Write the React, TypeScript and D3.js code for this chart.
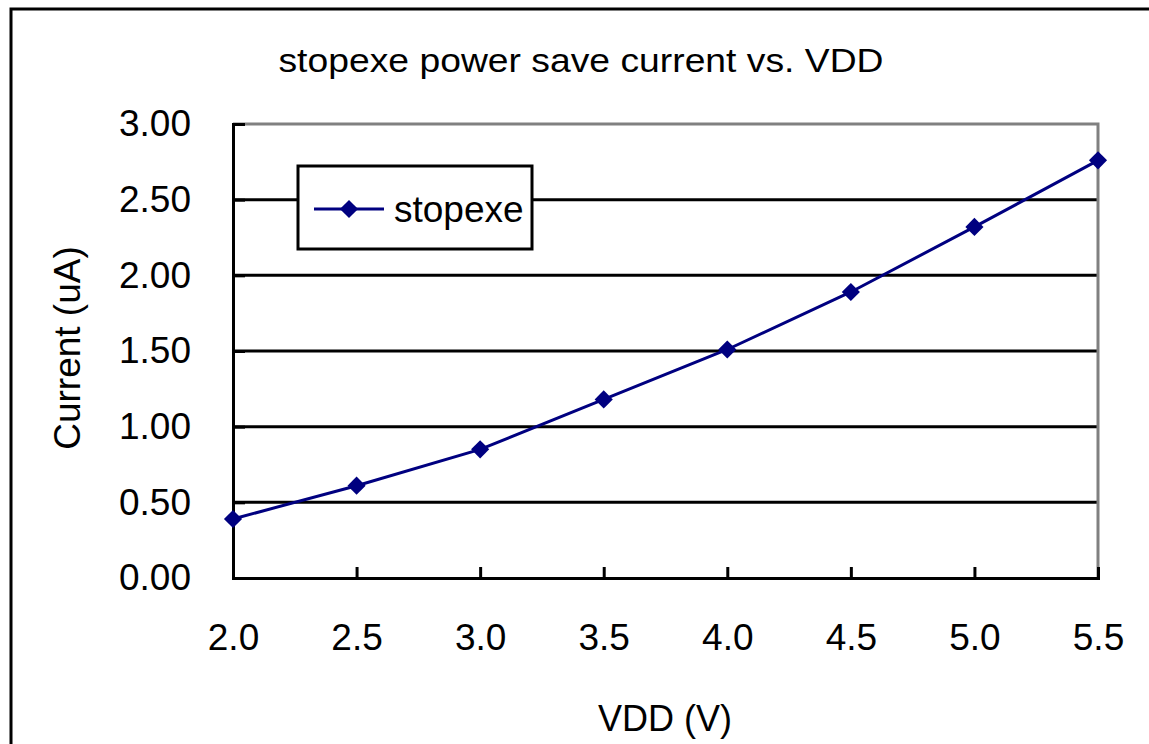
import React, { useEffect, useRef } from 'react';
import * as d3 from 'd3';

// VDD values (V) and measured current (uA)
const vdd = [2.0, 2.5, 3.0, 3.5, 4.0, 4.5, 5.0, 5.5];
const current = [0.39, 0.61, 0.85, 1.18, 1.51, 1.89, 2.32, 2.76];
const yTicks = [0, 0.5, 1.0, 1.5, 2.0, 2.5, 3.0];
const xTicks = [2.0, 2.5, 3.0, 3.5, 4.0, 4.5, 5.0, 5.5];
const seriesName = 'stopexe';
const titleText = 'stopexe power save current vs. VDD';

const W = 1149;
const H = 744;
const FONT = '"Liberation Sans", Arial, sans-serif';

export default function App() {
  const ref = useRef<SVGSVGElement | null>(null);

  useEffect(() => {
    const svg = d3.select(ref.current);
    svg.selectAll('*').remove();

    // plot area
    const left = 233, right = 1098, top = 124, bottom = 578;
    const x = d3.scaleLinear().domain([2.0, 5.5]).range([left, right]);
    const y = d3.scaleLinear().domain([0, 3]).range([bottom, top]);

    svg.append('rect').attr('width', W).attr('height', H).attr('fill', '#fff');

    // outer chart frame (cut off on right and bottom)
    svg.append('rect')
      .attr('x', 11).attr('y', 9)
      .attr('width', 1300).attr('height', 900)
      .attr('fill', 'none').attr('stroke', '#000').attr('stroke-width', 3);

    // title (source image is stretched horizontally a bit)
    svg.append('text')
      .attr('transform', 'translate(581,72) scale(1.13,1)')
      .attr('text-anchor', 'middle')
      .attr('font-family', FONT).attr('font-size', 33)
      .text(titleText);

    // gridlines
    svg.append('g').selectAll('line')
      .data(yTicks.filter(d => d > 0 && d < 3))
      .enter().append('line')
      .attr('x1', left).attr('x2', right)
      .attr('y1', d => y(d)).attr('y2', d => y(d))
      .attr('stroke', '#000').attr('stroke-width', 3);

    // grey plot border top + right
    svg.append('path')
      .attr('d', `M${left},${y(3)}H${x(5.5)}V${bottom}`)
      .attr('fill', 'none').attr('stroke', '#808080').attr('stroke-width', 3);

    // y axis
    const yAxis = d3.axisLeft(y).tickValues(yTicks).tickSize(-12).tickPadding(42)
      .tickFormat(d => d3.format('.2f')(d as number));
    const gy = svg.append('g').attr('transform', `translate(${left},0)`).call(yAxis);
    gy.select('.domain').attr('stroke', '#000').attr('stroke-width', 3);
    gy.selectAll('.tick line').attr('stroke', '#000').attr('stroke-width', 3);
    gy.selectAll('.tick text')
      .attr('font-family', FONT).attr('font-size', 37).attr('fill', '#000');

    // x axis
    const xAxis = d3.axisBottom(x).tickValues(xTicks).tickSize(-11).tickPadding(46)
      .tickFormat(d => d3.format('.1f')(d as number));
    const gx = svg.append('g').attr('transform', `translate(0,${bottom})`).call(xAxis);
    gx.select('.domain').attr('stroke', '#000').attr('stroke-width', 3);
    gx.selectAll('.tick line').attr('stroke', '#000').attr('stroke-width', 3);
    gx.selectAll('.tick text')
      .attr('font-family', FONT).attr('font-size', 37).attr('fill', '#000');

    // axis titles
    svg.append('text')
      .attr('x', 665).attr('y', 731)
      .attr('text-anchor', 'middle')
      .attr('font-family', FONT).attr('font-size', 36)
      .text('VDD (V)');
    svg.append('text')
      .attr('transform', 'translate(80,348) rotate(-90)')
      .attr('text-anchor', 'middle')
      .attr('font-family', FONT).attr('font-size', 37)
      .text('Current (uA)');

    // series
    const pts: [number, number][] = vdd.map((v, i) => [v, current[i]]);
    const line = d3.line<[number, number]>().x(d => x(d[0])).y(d => y(d[1]));
    svg.append('path')
      .attr('d', line(pts))
      .attr('fill', 'none').attr('stroke', '#000080').attr('stroke-width', 3);

    const diamond = d3.symbol().type(d3.symbolDiamond2).size(210);
    svg.append('g').selectAll('path')
      .data(pts)
      .enter().append('path')
      .attr('d', diamond)
      .attr('transform', d => `translate(${x(d[0])},${y(d[1])})`)
      .attr('fill', '#000080');

    // legend
    const lg = svg.append('g');
    lg.append('rect')
      .attr('x', 298).attr('y', 166).attr('width', 234).attr('height', 83)
      .attr('fill', '#fff').attr('stroke', '#000').attr('stroke-width', 3);
    lg.append('line')
      .attr('x1', 314).attr('x2', 384).attr('y1', 209).attr('y2', 209)
      .attr('stroke', '#000080').attr('stroke-width', 3);
    lg.append('path')
      .attr('d', diamond)
      .attr('transform', 'translate(349,209)')
      .attr('fill', '#000080');
    lg.append('text')
      .attr('x', 394).attr('y', 222)
      .attr('font-family', FONT).attr('font-size', 37)
      .text(seriesName);
  }, []);

  return (
    <svg
      ref={ref}
      width={W}
      height={H}
      style={{ position: 'absolute', left: 0, top: 0, display: 'block' }}
    />
  );
}
